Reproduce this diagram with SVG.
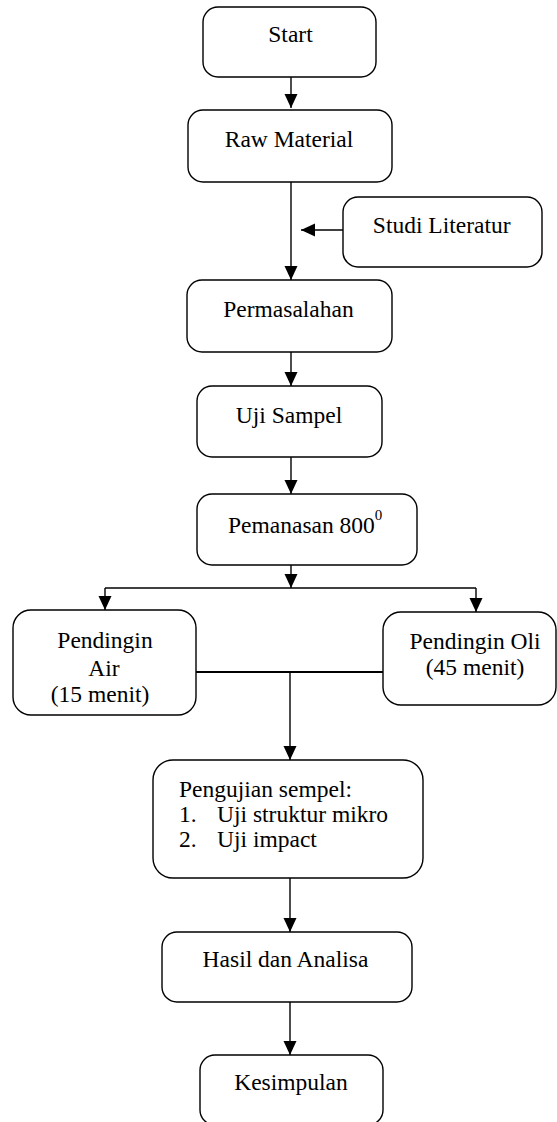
<svg xmlns="http://www.w3.org/2000/svg" width="557" height="1122" viewBox="0 0 557 1122">
<style>
.box{fill:#fff;stroke:#000;stroke-width:1.4}
.t{font-family:"Liberation Serif","Times New Roman",serif;font-size:23.5px;fill:#000}
.c{text-anchor:middle}
.ln{fill:none;stroke:#000;stroke-width:1.4}
</style>
<defs>
<marker id="ah" markerUnits="userSpaceOnUse" markerWidth="15" markerHeight="14" refX="14" refY="6.5" orient="auto">
<path d="M0,0 L14,6.5 L0,13 z" fill="#000"/>
</marker>
</defs>
<rect width="557" height="1122" fill="#fff"/>
<g id="connectors">
<line class="ln" x1="291" y1="77" x2="291" y2="108" marker-end="url(#ah)"/>
<line class="ln" x1="291" y1="182" x2="291" y2="280" marker-end="url(#ah)"/>
<line class="ln" x1="343" y1="230" x2="301" y2="230" marker-end="url(#ah)"/>
<line class="ln" x1="291" y1="352" x2="291" y2="386" marker-end="url(#ah)"/>
<line class="ln" x1="291" y1="457" x2="291" y2="494" marker-end="url(#ah)"/>
<line class="ln" x1="291" y1="565" x2="291" y2="588" marker-end="url(#ah)"/>
<polyline class="ln" points="105,588 476,588"/>
<line class="ln" x1="105" y1="588" x2="105" y2="610" marker-end="url(#ah)"/>
<line class="ln" x1="476" y1="588" x2="476" y2="612" marker-end="url(#ah)"/>
<line class="ln" x1="196" y1="672" x2="383" y2="672" style="stroke-width:2"/>
<line class="ln" x1="290" y1="672" x2="290" y2="760" marker-end="url(#ah)"/>
<line class="ln" x1="290" y1="878" x2="290" y2="932" marker-end="url(#ah)"/>
<line class="ln" x1="290" y1="1002" x2="290" y2="1055" marker-end="url(#ah)"/>
</g>
<g id="start">
<rect class="box" x="203" y="7" width="173" height="70" rx="15"/>
<text class="t c" x="290.5" y="42">Start</text>
</g>
<g id="raw-material">
<rect class="box" x="188" y="110" width="204" height="72" rx="15"/>
<text class="t c" x="289" y="147">Raw Material</text>
</g>
<g id="studi-literatur">
<rect class="box" x="343" y="197" width="199" height="70" rx="15"/>
<text class="t c" x="441.7" y="233">Studi Literatur</text>
</g>
<g id="permasalahan">
<rect class="box" x="187" y="280" width="205" height="72" rx="15"/>
<text class="t c" x="288.5" y="317">Permasalahan</text>
</g>
<g id="uji-sampel">
<rect class="box" x="197" y="386" width="185" height="71" rx="15"/>
<text class="t c" x="289" y="423">Uji Sampel</text>
</g>
<g id="pemanasan">
<rect class="box" x="197" y="494" width="220" height="71" rx="15"/>
<text class="t" x="228" y="533">Pemanasan 800<tspan font-size="15" dy="-13">0</tspan></text>
</g>
<g id="pendingin-air">
<rect class="box" x="13" y="610" width="183" height="105" rx="18"/>
<text class="t c" x="105" y="648">Pendingin</text>
<text class="t c" x="104" y="676">Air</text>
<text class="t c" x="100" y="702">(15 menit)</text>
</g>
<g id="pendingin-oli">
<rect class="box" x="383" y="612" width="173" height="93" rx="18"/>
<text class="t c" x="475" y="649">Pendingin Oli</text>
<text class="t c" x="475" y="675">(45 menit)</text>
</g>
<g id="pengujian">
<rect class="box" x="153" y="760" width="270" height="118" rx="20"/>
<text class="t" x="179" y="797">Pengujian sempel:</text>
<text class="t" x="179" y="822">1.</text>
<text class="t" x="217" y="822">Uji struktur mikro</text>
<text class="t" x="179" y="847">2.</text>
<text class="t" x="217" y="847">Uji impact</text>
</g>
<g id="hasil">
<rect class="box" x="162" y="932" width="250" height="70" rx="15"/>
<text class="t c" x="285.5" y="967">Hasil dan Analisa</text>
</g>
<g id="kesimpulan">
<rect class="box" x="200" y="1055" width="183" height="70" rx="15"/>
<text class="t c" x="291" y="1090">Kesimpulan</text>
</g>
</svg>
